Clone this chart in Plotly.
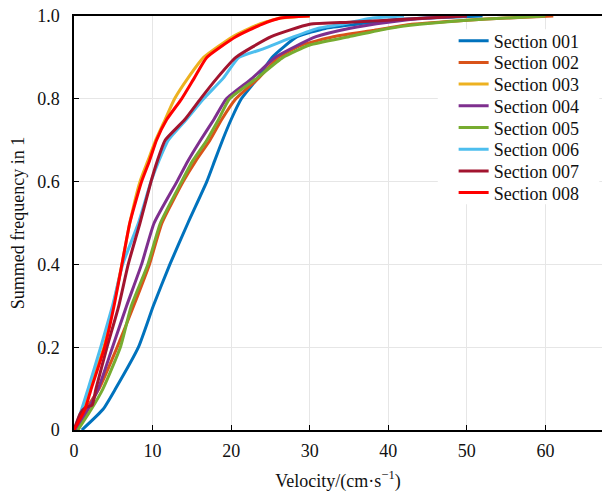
import plotly.graph_objects as go

names = ["Section 001", "Section 002", "Section 003", "Section 004",
         "Section 005", "Section 006", "Section 007", "Section 008"]
colors = ["#0072BD", "#D95319", "#EDB120", "#7E2F8E",
          "#77AC30", "#4DBEEE", "#A2142F", "#FF0000"]

# velocity (x) and cumulative frequency (y)
s001_x = [1.0, 3.7, 5.3, 8.2, 10.1, 12.2, 14.5, 16.9, 17.9, 18.9, 20.0, 21.3, 23.4, 25.2, 28.4, 32, 36, 40, 45, 52]
s001_y = [0, 0.05, 0.1, 0.2, 0.3, 0.4, 0.5, 0.6, 0.65, 0.7, 0.75, 0.8, 0.85, 0.9, 0.95, 0.97, 0.98, 0.99, 0.995, 1.0]

s002_x = [0.3, 1.5, 3.2, 5.5, 7.6, 9.6, 11.2, 13.9, 15.5, 17.3, 18.8, 20.6, 23.5, 26.0, 29, 33, 38, 43, 50, 55, 61]
s002_y = [0, 0.05, 0.1, 0.2, 0.3, 0.4, 0.5, 0.6, 0.65, 0.7, 0.75, 0.8, 0.85, 0.9, 0.93, 0.95, 0.965, 0.98, 0.99, 0.995, 1.0]

s003_x = [0, 1.2, 2.0, 3.8, 5.0, 6.1, 7.1, 8.4, 9.4, 10.4, 11.6, 12.8, 14.5, 16.5, 20.2, 23.5, 26.3, 30]
s003_y = [0, 0.05, 0.1, 0.2, 0.3, 0.4, 0.5, 0.6, 0.65, 0.7, 0.75, 0.8, 0.85, 0.9, 0.95, 0.98, 0.995, 1.0]

s004_x = [0.3, 1.8, 3.1, 4.9, 6.7, 8.6, 10.2, 13.1, 14.5, 16.1, 17.8, 19.4, 22.7, 25.6, 30.8, 35, 40, 45, 50]
s004_y = [0, 0.05, 0.1, 0.2, 0.3, 0.4, 0.5, 0.6, 0.65, 0.7, 0.75, 0.8, 0.85, 0.9, 0.95, 0.97, 0.985, 0.995, 1.0]

s005_x = [0.5, 2.2, 3.7, 5.9, 7.3, 9.4, 11.0, 13.7, 15.1, 16.9, 18.4, 19.8, 23.3, 26.6, 30, 35, 40, 44, 50, 55, 60]
s005_y = [0, 0.05, 0.1, 0.2, 0.3, 0.4, 0.5, 0.6, 0.65, 0.7, 0.75, 0.8, 0.85, 0.9, 0.93, 0.95, 0.97, 0.98, 0.99, 0.995, 1.0]

s006_x = [0, 0.8, 1.8, 3.4, 4.9, 6.2, 8.2, 9.8, 10.8, 12.0, 14.3, 16.5, 19.0, 21.0, 24, 28, 31, 34, 38, 42]
s006_y = [0, 0.04, 0.1, 0.2, 0.3, 0.4, 0.5, 0.6, 0.65, 0.7, 0.75, 0.8, 0.85, 0.9, 0.92, 0.95, 0.97, 0.98, 0.995, 1.0]

s007_x = [0, 0.8, 1.5, 2.3, 2.8, 4.2, 5.7, 6.9, 8.4, 9.8, 10.6, 11.6, 14.1, 16.1, 18.2, 20.6, 25.1, 30, 35, 40, 45, 50]
s007_y = [0, 0.04, 0.055, 0.06, 0.1, 0.2, 0.3, 0.4, 0.5, 0.6, 0.65, 0.7, 0.75, 0.8, 0.85, 0.9, 0.95, 0.98, 0.985, 0.99, 0.995, 1.0]

s008_x = [0, 1.4, 2.2, 3.9, 5.1, 6.1, 7.1, 8.6, 9.6, 10.5, 11.8, 13.7, 15.3, 16.9, 20.6, 23.9, 26.3, 30]
s008_y = [0, 0.05, 0.1, 0.2, 0.3, 0.4, 0.5, 0.6, 0.65, 0.7, 0.75, 0.8, 0.85, 0.9, 0.95, 0.98, 0.995, 1.0]

xs = [s001_x, s002_x, s003_x, s004_x, s005_x, s006_x, s007_x, s008_x]
ys = [s001_y, s002_y, s003_y, s004_y, s005_y, s006_y, s007_y, s008_y]

x_ticks = [0, 10, 20, 30, 40, 50, 60]
y_ticks = [0, 0.2, 0.4, 0.6, 0.8, 1.0]
y_tick_labels = ["0", "0.2", "0.4", "0.6", "0.8", "1.0"]

FONT = "Liberation Serif, Times New Roman, serif"
TXT = "#111111"

FIG_W, FIG_H = 602, 495
M_L, M_R, M_T, M_B = 74, 0, 16, 65
PLOT_H = FIG_H - M_T - M_B
LEG_FIRST, LEG_STEP = 41, 21.7  # pixel centre of first legend entry, spacing

fig = go.Figure()
legend_layout = {}
for i, (n, c, x, y) in enumerate(zip(names, colors, xs, ys)):
    key = "legend" if i == 0 else f"legend{i + 1}"
    fig.add_trace(go.Scatter(x=x, y=y, mode="lines", name=n, legend=key,
                             line=dict(color=c, width=3, shape="spline", smoothing=0.5)))
    yc = LEG_FIRST + LEG_STEP * i
    legend_layout[key] = dict(
        x=0.719, y=(FIG_H - M_B - yc) / PLOT_H, xanchor="left", yanchor="middle",
        bgcolor="rgba(0,0,0,0)", borderwidth=0,
        font=dict(family=FONT, size=18, color=TXT))

# white box behind the legend entries
fig.add_shape(type="rect", xref="paper", yref="paper", layer="above",
              x0=0.689, x1=0.995, y0=0.545, y1=0.968,
              fillcolor="white", line=dict(width=0))

fig.update_layout(
    width=FIG_W, height=FIG_H,
    margin=dict(l=M_L, r=M_R, t=M_T, b=M_B),
    paper_bgcolor="white", plot_bgcolor="white",
    font=dict(family=FONT, size=18, color=TXT),
    showlegend=True,
    xaxis=dict(range=[0, 67.2], tickvals=x_ticks, ticks="inside", ticklen=5,
               tickcolor="black", showline=True, linecolor="black", linewidth=1.5,
               mirror=True, showgrid=True, gridcolor="#e6e6e6", gridwidth=1,
               zeroline=False, automargin=False, ticklabelstandoff=4,
               tickfont=dict(family=FONT, size=18, color=TXT),
               title=dict(text="Velocity/(cm·s<sup>−1</sup>)", standoff=14,
                          font=dict(family=FONT, size=18, color=TXT))),
    yaxis=dict(range=[0, 1.0], tickvals=y_ticks, ticktext=y_tick_labels,
               ticks="inside", ticklen=5, tickcolor="black",
               showline=True, linecolor="black", linewidth=1.5,
               showgrid=True, gridcolor="#e6e6e6", gridwidth=1, zeroline=False,
               automargin=False, ticklabelstandoff=9,
               tickfont=dict(family=FONT, size=18, color=TXT),
               title=dict(text="Summed frequency in 1", standoff=8,
                          font=dict(family=FONT, size=18, color=TXT))),
    **legend_layout,
)

# remove the browser's default 8px body margin so the figure fills the window
fig.write_html("out.html", config={"displayModeBar": False},
               post_script="document.body.style.margin='0';")
